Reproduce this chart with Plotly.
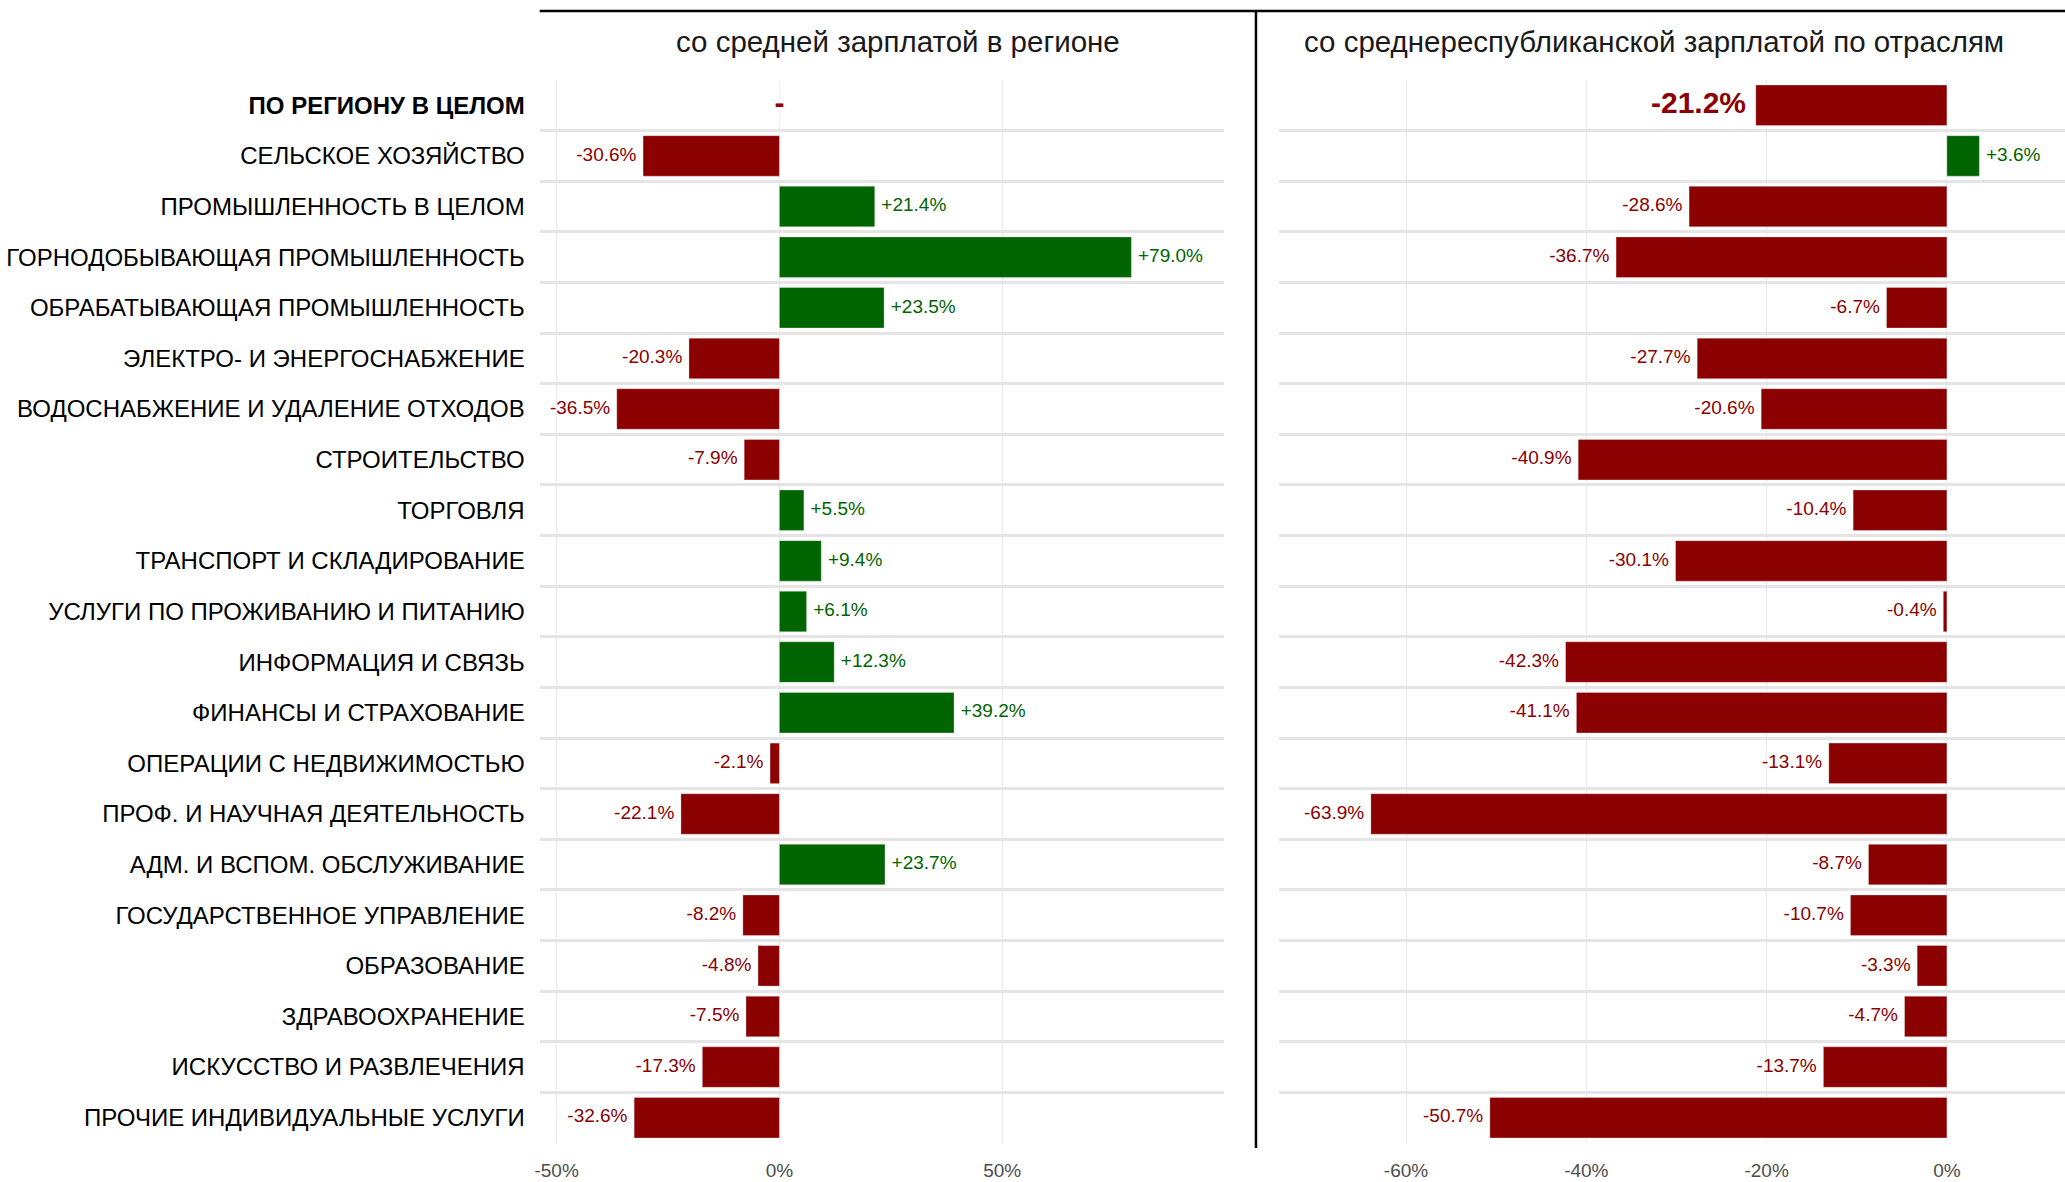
import plotly.graph_objects as go

categories = [
    "ПО РЕГИОНУ В ЦЕЛОМ",
    "СЕЛЬСКОЕ ХОЗЯЙСТВО",
    "ПРОМЫШЛЕННОСТЬ В ЦЕЛОМ",
    "ГОРНОДОБЫВАЮЩАЯ ПРОМЫШЛЕННОСТЬ",
    "ОБРАБАТЫВАЮЩАЯ ПРОМЫШЛЕННОСТЬ",
    "ЭЛЕКТРО- И ЭНЕРГОСНАБЖЕНИЕ",
    "ВОДОСНАБЖЕНИЕ И УДАЛЕНИЕ ОТХОДОВ",
    "СТРОИТЕЛЬСТВО",
    "ТОРГОВЛЯ",
    "ТРАНСПОРТ И СКЛАДИРОВАНИЕ",
    "УСЛУГИ ПО ПРОЖИВАНИЮ И ПИТАНИЮ",
    "ИНФОРМАЦИЯ И СВЯЗЬ",
    "ФИНАНСЫ И СТРАХОВАНИЕ",
    "ОПЕРАЦИИ С НЕДВИЖИМОСТЬЮ",
    "ПРОФ. И НАУЧНАЯ ДЕЯТЕЛЬНОСТЬ",
    "АДМ. И ВСПОМ. ОБСЛУЖИВАНИЕ",
    "ГОСУДАРСТВЕННОЕ УПРАВЛЕНИЕ",
    "ОБРАЗОВАНИЕ",
    "ЗДРАВООХРАНЕНИЕ",
    "ИСКУССТВО И РАЗВЛЕЧЕНИЯ",
    "ПРОЧИЕ ИНДИВИДУАЛЬНЫЕ УСЛУГИ",
]
vs_region = [0.0, -30.6, 21.4, 79.0, 23.5, -20.3, -36.5, -7.9, 5.5, 9.4, 6.1,
             12.3, 39.2, -2.1, -22.1, 23.7, -8.2, -4.8, -7.5, -17.3, -32.6]
vs_republic = [-21.2, 3.6, -28.6, -36.7, -6.7, -27.7, -20.6, -40.9, -10.4, -30.1, -0.4,
               -42.3, -41.1, -13.1, -63.9, -8.7, -10.7, -3.3, -4.7, -13.7, -50.7]
panel_titles = ["со средней зарплатой в регионе", "со среднереспубликанской зарплатой по отраслям"]
left_ticks = [-50, 0, 50]
right_ticks = [-60, -40, -20, 0]

RED = "#8B0000"
GREEN = "#006400"
W, H = 2065, 1182
BODY = "Liberation Sans, Arial, sans-serif"
NARROW = "Liberation Sans Narrow, Arial Narrow, Liberation Sans, Arial, sans-serif"


def col(v):
    return GREEN if v > 0 else RED


def lab(v):
    if v == 0:
        return "-"
    return f"{v:+.1f}%"


fig = go.Figure()

for vals, xa, ya in [(vs_region, "x", "y"), (vs_republic, "x2", "y2")]:
    fig.add_trace(go.Bar(
        y=categories, x=vals, orientation="h", width=0.8,
        marker=dict(color=[col(v) for v in vals], line=dict(color="rgba(255,255,255,0.5)", width=0.6)),
        xaxis=xa, yaxis=ya, showlegend=False, hoverinfo="skip",
    ))
    pos_idx = [i for i in range(1, len(vals)) if vals[i] > 0]
    neg_idx = [i for i in range(1, len(vals)) if vals[i] <= 0]
    for idx, tp in [(pos_idx, "middle right"), (neg_idx, "middle left")]:
        fig.add_trace(go.Scatter(
            y=[categories[i] for i in idx], x=[vals[i] for i in idx],
            mode="markers+text", text=[lab(vals[i]) for i in idx], textposition=tp,
            marker=dict(size=9, color="rgba(0,0,0,0)"),
            textfont=dict(family=BODY, size=19, color=[col(vals[i]) for i in idx]),
            xaxis=xa, yaxis=ya, showlegend=False, hoverinfo="skip", cliponaxis=False,
        ))
    v0 = vals[0]
    fig.add_trace(go.Scatter(
        y=[categories[0]], x=[v0], mode="markers+text", text=["<b>" + lab(v0) + "</b>"],
        textposition="middle center" if v0 == 0 else ("middle right" if v0 > 0 else "middle left"),
        marker=dict(size=14, color="rgba(0,0,0,0)"),
        textfont=dict(family=BODY, size=30, color=RED),
        xaxis=xa, yaxis=ya, showlegend=False, hoverinfo="skip", cliponaxis=False,
    ))

ydom = [1 - 1143 / H, 1 - 80 / H]
ticktext_y = ["<b>" + categories[0] + "</b>"] + categories[1:]

common_x = dict(showgrid=True, gridcolor="#EBEBEB", gridwidth=1, zeroline=False,
                showline=False, ticks="", ticklabelstandoff=14,
                tickfont=dict(family=NARROW, size=19, color="#4D4D4D"))
common_y = dict(type="category", categoryorder="array", categoryarray=categories,
                range=[20.5, -0.5], tickson="boundaries", showgrid=True,
                gridcolor="#E5E5E5", gridwidth=2.6, zeroline=False, showline=False,
                ticks="", domain=ydom)

fig.update_layout(
    width=W, height=H, margin=dict(l=0, r=0, t=0, b=0),
    paper_bgcolor="white", plot_bgcolor="white",
    bargap=0.2,
    xaxis=dict(domain=[536 / W, 1222 / W], range=[-53.8, 99.8], anchor="y",
               tickvals=left_ticks, ticktext=[f"{t}%" for t in left_ticks], **common_x),
    xaxis2=dict(domain=[1277 / W, 1.0], range=[-74.1, 13.1], anchor="y2",
                tickvals=right_ticks, ticktext=[f"{t}%" for t in right_ticks], **common_x),
    yaxis=dict(anchor="x", tickvals=categories, ticktext=ticktext_y, ticklabelstandoff=14,
               tickfont=dict(family=BODY, size=24, color="#000000"), **common_y),
    yaxis2=dict(anchor="x2", showticklabels=False, **common_y),
    annotations=[
        dict(text=panel_titles[0], xref="paper", yref="paper", x=895 / W, y=1 - 42 / H,
             showarrow=False, xanchor="center", yanchor="middle",
             font=dict(family=NARROW, size=29.5, color="#1A1A1A")),
        dict(text=panel_titles[1], xref="paper", yref="paper", x=1653 / W, y=1 - 42 / H,
             showarrow=False, xanchor="center", yanchor="middle",
             font=dict(family=NARROW, size=29.5, color="#1A1A1A")),
    ],
    shapes=[
        dict(type="line", xref="paper", yref="paper", x0=536 / W, x1=1.0, y0=1 - 11 / H, y1=1 - 11 / H,
             line=dict(color="black", width=2.5)),
        dict(type="line", xref="paper", yref="paper", x0=1254 / W, x1=1254 / W, y0=1 - 11 / H, y1=1 - 1148 / H,
             line=dict(color="black", width=2.5)),
    ],
)

fig.write_html(
    "out.html",
    config={"displayModeBar": False},
    post_script="document.body.style.margin='0';document.body.style.padding='0';document.body.style.overflow='hidden';",
)
